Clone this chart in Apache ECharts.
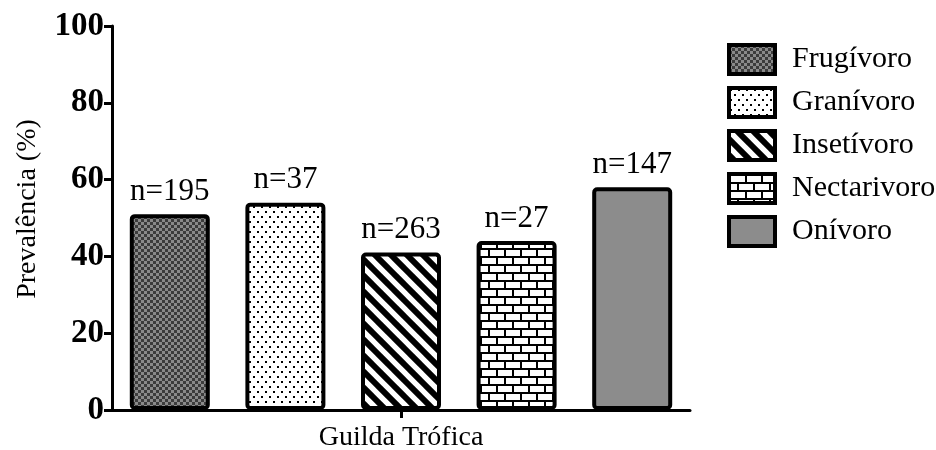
<!DOCTYPE html>
<html>
<head>
<meta charset="utf-8">
<style>
  html, body { margin: 0; padding: 0; background: #fff; }
  #chart { width: 936px; height: 450px; }
</style>
<script src="https://cdn.jsdelivr.net/npm/echarts@6/dist/echarts.min.js"></script>
</head>
<body>
<div id="chart"></div>
<script>
// Trophic guilds, prevalence (%) and sample sizes
const guilds = ['Frugívoro', 'Granívoro', 'Insetívoro', 'Nectarivoro', 'Onívoro'];
const prevalence = [51, 54, 41, 44, 58];
const sampleSizes = [195, 37, 263, 27, 147];
const yTicks = [0, 20, 40, 60, 80, 100];

// Fill patterns drawn onto small canvases
function tile(w, h, draw) {
  const c = document.createElement('canvas');
  c.width = w; c.height = h;
  const ctx = c.getContext('2d');
  draw(ctx, w, h);
  return { image: c, repeat: 'repeat' };
}
const checker = tile(6, 6, (ctx) => {
  ctx.fillStyle = '#8a8a8a'; ctx.fillRect(0, 0, 6, 6);
  ctx.fillStyle = '#3c3c3c'; ctx.fillRect(0, 0, 3, 3); ctx.fillRect(3, 3, 3, 3);
});
const dots = tile(8, 10, (ctx) => {
  ctx.fillStyle = '#fff'; ctx.fillRect(0, 0, 8, 10);
  ctx.fillStyle = '#000'; ctx.fillRect(1, 1, 2, 2); ctx.fillRect(5, 6, 2, 2);
});
// diagonal bands running top-left to bottom-right
const stripes = tile(16, 16, (ctx) => {
  ctx.fillStyle = '#fff'; ctx.fillRect(0, 0, 16, 16);
  ctx.fillStyle = '#000';
  const half = 4.2;
  for (let k = -32; k <= 32; k += 16) {
    ctx.beginPath();
    ctx.moveTo(k - half, -8);
    ctx.lineTo(k + half, -8);
    ctx.lineTo(k + half + 32, 24);
    ctx.lineTo(k - half + 32, 24);
    ctx.closePath();
    ctx.fill();
  }
});
const bricks = tile(16, 16, (ctx) => {
  ctx.fillStyle = '#fff'; ctx.fillRect(0, 0, 16, 16);
  ctx.fillStyle = '#000';
  ctx.fillRect(0, 0, 16, 2); ctx.fillRect(0, 8, 16, 2);
  ctx.fillRect(0, 0, 2, 8); ctx.fillRect(8, 8, 2, 8);
});
const fills = [checker, dots, stripes, bricks, '#8c8c8c'];

const serif = '"Liberation Serif", "Times New Roman", serif';

const series = guilds.map((g, i) => ({
  name: g,
  type: 'bar',
  stack: 'guild',
  barWidth: 80,
  data: guilds.map((_, j) => (j === i ? prevalence[i] : null)),
  itemStyle: {
    color: fills[i],
    borderColor: '#000',
    borderWidth: 4,
    borderRadius: 3
  },
  label: {
    show: true,
    position: 'top',
    distance: 7,
    formatter: 'n=' + sampleSizes[i],
    fontFamily: serif,
    fontSize: 31,
    color: '#000'
  }
}));

const chart = echarts.init(document.getElementById('chart'));
chart.setOption({
  animation: false,
  backgroundColor: '#fff',
  grid: { left: 112, right: 246, top: 26, bottom: 40, outerBoundsMode: 'none', containLabel: false },
  legend: {
    orient: 'vertical',
    left: 722,
    top: 38,
    itemWidth: 46,
    itemHeight: 29,
    itemGap: 10,
    icon: 'rect',
    data: guilds,
    itemStyle: { borderColor: '#000', borderWidth: 4 },
    textStyle: { fontFamily: serif, fontSize: 30, color: '#000', padding: [0, 0, 0, 12] }
  },
  xAxis: [
    {
      type: 'category',
      data: guilds,
      axisLine: { lineStyle: { color: '#000', width: 3 } },
      axisTick: { show: false },
      axisLabel: { show: false },
      name: 'Guilda Trófica',
      nameLocation: 'middle',
      nameGap: 14,
      nameTextStyle: { fontFamily: serif, fontSize: 28, color: '#000' }
    },
    {
      type: 'category',
      data: [''],
      position: 'bottom',
      axisLine: { show: false },
      axisTick: { show: true, alignWithLabel: true, length: 8, lineStyle: { color: '#000', width: 3 } },
      axisLabel: { show: false }
    }
  ],
  yAxis: {
    type: 'value',
    min: yTicks[0],
    max: yTicks[yTicks.length - 1],
    interval: 20,
    axisLine: { show: true, lineStyle: { color: '#000', width: 3 } },
    axisTick: { show: true, length: 8, lineStyle: { color: '#000', width: 3 } },
    splitLine: { show: false },
    axisLabel: {
      fontFamily: serif, fontSize: 33, fontWeight: 'bold', color: '#000', margin: 8
    },
    name: 'Prevalência (%)',
    nameLocation: 'middle',
    nameGap: 70,
    nameTextStyle: { fontFamily: serif, fontSize: 28, color: '#000', padding: [0, 0, 0, 18] }
  },
  series: series
});
</script>
</body>
</html>
